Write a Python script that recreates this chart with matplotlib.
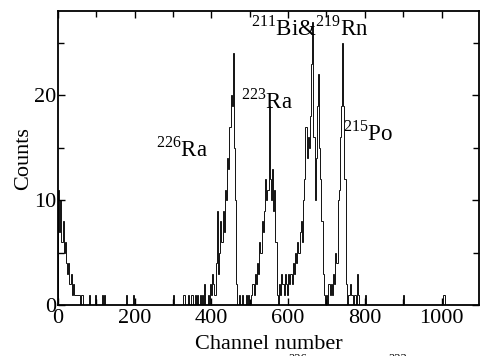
import numpy as np
import matplotlib

matplotlib.use("Agg")

import matplotlib.pyplot as plt
from matplotlib.ticker import MultipleLocator

plt.rcParams["font.family"] = ["Liberation Serif", "DejaVu Serif"]
plt.rcParams["mathtext.fontset"] = "custom"
plt.rcParams["mathtext.rm"] = "Liberation Serif"

# histogram, 3 channels per bin
BIN = 3
N_CHANNELS = 1101

low_start = 0
low_counts = [11, 7, 10, 6, 8, 5, 6, 4, 3, 4, 2, 3, 1, 2, 1, 1, 0, 1, 1, 0, 1, 1]

ra226_start = 390
ra226_counts = [1, 0, 2, 1, 3, 2, 1, 4, 9, 3, 5, 8, 6, 9, 7, 11, 10, 14, 13,
                17, 20, 19, 24, 15, 10, 2, 0]

ra223_start = 504
ra223_counts = [1, 2, 1, 3, 2, 4, 3, 6, 5, 8, 7, 9, 12, 10, 11, 19, 12, 10,
                13, 9, 11, 6, 1, 0]

bi_rn_start = 576
bi_rn_counts = [2, 1, 3, 2, 1, 3, 2, 1, 3, 2, 3, 2, 4, 3, 5, 4, 6, 5, 7, 8,
                6, 10, 12, 17, 14, 16, 15, 18, 23, 27, 16, 10, 14, 19, 22,
                15, 12, 8, 3, 1, 0]

po_start = 699
po_counts = [1, 0, 2, 1, 2, 1, 3, 2, 5, 4, 10, 11, 16, 19, 25, 19, 12, 2, 0,
             1, 1, 2, 1, 0, 1, 1, 0, 3, 1]

single_channels = [48, 54, 60, 83, 96, 114, 120, 177, 197, 300, 327, 340,
                   348, 357, 363, 370, 375, 381, 471, 480, 489, 495, 801,
                   900, 1007]
single_counts = [1, 1, 1, 1, 1, 1, 1, 1, 1, 1, 1, 1, 1, 1, 1, 1, 1, 2, 1, 1,
                 1, 1, 1, 1, 1]

labels = ["$^{226}$Ra", "$^{223}$Ra", "$^{211}$Bi&$^{219}$Rn", "$^{215}$Po"]
label_x = [256, 476, 503, 743]
label_y = [14.8, 19.4, 26.4, 16.4]

edges = np.arange(0, N_CHANNELS + BIN, BIN)
counts = np.zeros(len(edges) - 1)
for start, seg in [(low_start, low_counts), (ra226_start, ra226_counts),
                   (ra223_start, ra223_counts), (bi_rn_start, bi_rn_counts),
                   (po_start, po_counts)]:
    i0 = start // BIN
    counts[i0:i0 + len(seg)] = seg
for ch, c in zip(single_channels, single_counts):
    counts[ch // BIN] = max(counts[ch // BIN], c)

fig = plt.figure(figsize=(4.83, 3.56), dpi=100)
ax = fig.add_axes([0.120, 0.143, 0.872, 0.826])
ax.stairs(counts, edges, color="#111111", linewidth=0.7)

ax.set_xlim(0, 1098)
ax.set_ylim(0, 28)
ax.xaxis.set_major_locator(MultipleLocator(200))
ax.xaxis.set_minor_locator(MultipleLocator(100))
ax.yaxis.set_major_locator(MultipleLocator(10))
ax.yaxis.set_minor_locator(MultipleLocator(5))
ax.tick_params(which="both", direction="in", top=True, right=True,
               labelsize=16, width=1.0, pad=1)
ax.tick_params(axis="x", pad=3)
ax.tick_params(which="major", length=5)
ax.tick_params(which="minor", length=4)
for s in ax.spines.values():
    s.set_linewidth(1.3)

ax.set_xlabel("Channel number", fontsize=16, labelpad=5)
ax.set_ylabel("Counts", fontsize=16, labelpad=1)

for txt, x, y in zip(labels, label_x, label_y):
    ax.text(x, y, txt, fontsize=16.5, ha="left", va="center")

# caption line cut off at the bottom of the scan
fig.text(288 / 483, 0.008, "226", fontsize=9, ha="left", va="top")
fig.text(388 / 483, 0.008, "223", fontsize=9, ha="left", va="top")

fig.savefig("out.png", dpi=100)
